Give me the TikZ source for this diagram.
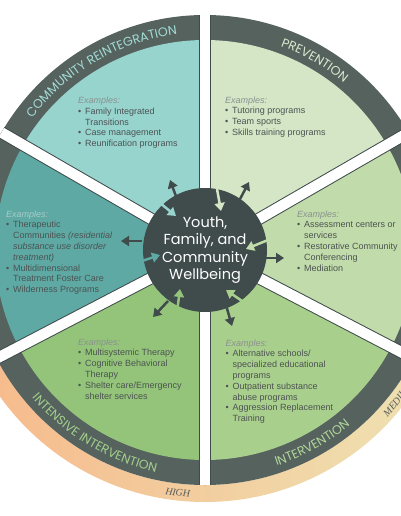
\documentclass[tikz,border=0pt]{standalone}
\usepackage{fontspec}
\setmainfont{Liberation Sans}
\newfontfamily\popfont{Poppins}
\newfontfamily\serffont{Liberation Serif}
\usetikzlibrary{decorations.text,arrows.meta}
\definecolor{band}{HTML}{55625E}
\definecolor{cdark}{HTML}{404B4C}
\definecolor{tealA}{HTML}{97D4CE}
\definecolor{greenA}{HTML}{D4E6C6}
\definecolor{greenB}{HTML}{C1DBAA}
\definecolor{greenC}{HTML}{A9CF8D}
\definecolor{greenD}{HTML}{94C47A}
\definecolor{tealB}{HTML}{5EA9A4}
\definecolor{tealtxt}{HTML}{A3DCD6}
\definecolor{prevtxt}{HTML}{DCE9D0}
\definecolor{inttxt}{HTML}{B3D79A}
\definecolor{intstxt}{HTML}{A4D08D}
\definecolor{bodygray}{HTML}{4C5352}
\definecolor{exgray}{HTML}{8B9191}
\definecolor{exlight}{HTML}{A9CBC8}
\definecolor{lblgray}{HTML}{55595A}
\definecolor{orangeL}{HTML}{F7B88A}
\definecolor{tanR}{HTML}{EEE4B4}
\newcommand\exbox[1]{\vtop{\baselineskip=10.8pt\lineskiplimit=-20pt\relax #1}}
\newcommand\exhead[1][exgray]{\hbox{\color{#1}\itshape Examples:}}
\newcommand\bitem[1]{\hbox{\makebox[7pt][l]{\textbullet}#1}}
\newcommand\citem[1]{\hbox{\hspace*{7pt}#1}}
\newcommand\bandfont{\popfont\fontsize{12.5}{12.5}\selectfont}
\newcommand\lvlfont{\serffont\itshape\fontsize{10}{10}\selectfont}
\begin{document}
\begin{tikzpicture}[x=1pt,y=1pt,
  exnode/.style={anchor=base west,inner sep=0pt,font=\fontsize{9}{10.8}\selectfont,text=bodygray},
  outarrow/.style={cdark,line width=2.5pt,-{Triangle[length=8pt,width=10pt]}},
  inarrow/.style={line width=2.5pt,-{Triangle[length=8pt,width=10pt]}}]
\useasboundingbox (0,0) rectangle (400,-516);
\coordinate (C) at (205,-250);
% level band
\shade[left color=orangeL,right color=tanR]
  ([shift={(180:252)}]C) arc[start angle=180,end angle=360,radius=252]
  -- ([shift={(0:235)}]C) arc[start angle=360,end angle=180,radius=235] -- cycle;
% dark outer ring
\fill[band] (C) circle[radius=235];
% sectors
\foreach \a/\b/\c in {90/150/tealA,30/90/greenA,-27.5/30/greenB,-90/-27.5/greenC,-152.5/-90/greenD,150/207.5/tealB}
  \fill[\c] (C) -- ([shift={(\a:210)}]C) arc[start angle=\a,end angle=\b,radius=210] -- cycle;
% separators
\foreach \a in {90,30,-27.5,-90,-152.5,150}{
  \draw[cdark,line width=12.5pt] (C) -- ([shift={(\a:235)}]C);
  \draw[white,line width=10.5pt] (C) -- ([shift={(\a:235)}]C);
}
% hub
\node[circle,fill=cdark,minimum size=124pt,inner sep=0pt,align=center,text=white,
  font=\popfont\fontsize{14.5}{17.5}\selectfont] (hub) at (C) {Youth,\\Family, and\\Community\\Wellbeing};
% arrows
\coordinate (a1t) at (177,-199); \coordinate (a1h) at (170,-180);
\coordinate (b1t) at (160,-203); \coordinate (b1h) at (176,-216);
\coordinate (a2t) at (239,-201); \coordinate (a2h) at (249,-182);
\coordinate (b2t) at (217,-189); \coordinate (b2h) at (221,-211);
\coordinate (a3t) at (262,-258); \coordinate (a3h) at (284,-258);
\coordinate (b3t) at (268,-240); \coordinate (b3h) at (246,-249);
\coordinate (a4t) at (226,-305); \coordinate (a4h) at (232,-326);
\coordinate (b4t) at (245,-303); \coordinate (b4h) at (226,-290);
\coordinate (a5t) at (168,-301); \coordinate (a5h) at (153,-317);
\coordinate (b5t) at (177,-312); \coordinate (b5h) at (180,-289);
\coordinate (a6t) at (142,-241); \coordinate (a6h) at (121,-241);
\coordinate (b6t) at (139,-262); \coordinate (b6h) at (160,-255);
\draw[outarrow] (a1t) -- (a1h);
\draw[inarrow,tealA] (b1t) -- (b1h);
\draw[outarrow] (a2t) -- (a2h);
\draw[inarrow,greenA] (b2t) -- (b2h);
\draw[outarrow] (a3t) -- (a3h);
\draw[inarrow,greenB] (b3t) -- (b3h);
\draw[outarrow] (a4t) -- (a4h);
\draw[inarrow,greenC] (b4t) -- (b4h);
\draw[outarrow] (a5t) -- (a5h);
\draw[inarrow,greenD] (b5t) -- (b5h);
\draw[outarrow] (a6t) -- (a6h);
\draw[inarrow,tealB] (b6t) -- (b6h);
% band labels
\path[decorate,decoration={text along path,text align=center,
  text={|\bandfont\color{tealtxt}|COMMUNITY REINTEGRATION}}]
  ([shift={(150:217.5)}]C) arc[start angle=150,end angle=90,radius=217.5];
\path[decorate,decoration={text along path,text align=center,
  text={|\bandfont\color{prevtxt}|PREVENTION}}]
  ([shift={(90:217.5)}]C) arc[start angle=90,end angle=30,radius=217.5];
\path[decorate,decoration={text along path,text align=center,
  text={|\bandfont\color{inttxt}|INTERVENTION}}]
  ([shift={(-92:227.5)}]C) arc[start angle=-92,end angle=-30,radius=227.5];
\path[decorate,decoration={text along path,text align=center,
  text={|\bandfont\color{intstxt}|INTENSIVE INTERVENTION}}]
  ([shift={(-151:227.5)}]C) arc[start angle=-151,end angle=-91,radius=227.5];
% level labels
\path[decorate,decoration={text along path,text align=center,
  text={|\lvlfont\color{lblgray}|HIGH}}]
  ([shift={(-116.4:247.5)}]C) arc[start angle=-116.4,end angle=-76.4,radius=247.5];
\path[decorate,decoration={text along path,text align=left,
  text={|\lvlfont\color{lblgray}|MEDIUM}}]
  ([shift={(-42.5:247.5)}]C) arc[start angle=-42.5,end angle=0,radius=247.5];
% examples
\node[exnode] (ex1) at (78,-103.5) {\exbox{\exhead
  \bitem{Family Integrated}\citem{Transitions}\bitem{Case management}\bitem{Reunification programs}}};
\node[exnode] (ex2) at (225,-103) {\exbox{\exhead
  \bitem{Tutoring programs}\bitem{Team sports}\bitem{Skills training programs}}};
\node[exnode] (ex3) at (297,-217) {\exbox{\exhead
  \bitem{Assessment centers or}\citem{services}\bitem{Restorative Community}\citem{Conferencing}\bitem{Mediation}}};
\node[exnode] (ex4) at (6,-217) {\exbox{\exhead[exlight]
  \bitem{Therapeutic}\citem{Communities \textit{(residential}}\citem{\textit{substance use disorder}}\citem{\textit{treatment)}}%
  \bitem{Multidimensional}\citem{Treatment Foster Care}\bitem{Wilderness Programs}}};
\node[exnode] (ex5) at (78,-345) {\exbox{\exhead
  \bitem{Multisystemic Therapy}\bitem{Cognitive Behavioral}\citem{Therapy}\bitem{Shelter care/Emergency}\citem{shelter services}}};
\node[exnode] (ex6) at (225.5,-346) {\exbox{\exhead
  \bitem{Alternative schools/}\citem{specialized educational}\citem{programs}\bitem{Outpatient substance}\citem{abuse programs}%
  \bitem{Aggression Replacement}\citem{Training}}};
\end{tikzpicture}
\end{document}
